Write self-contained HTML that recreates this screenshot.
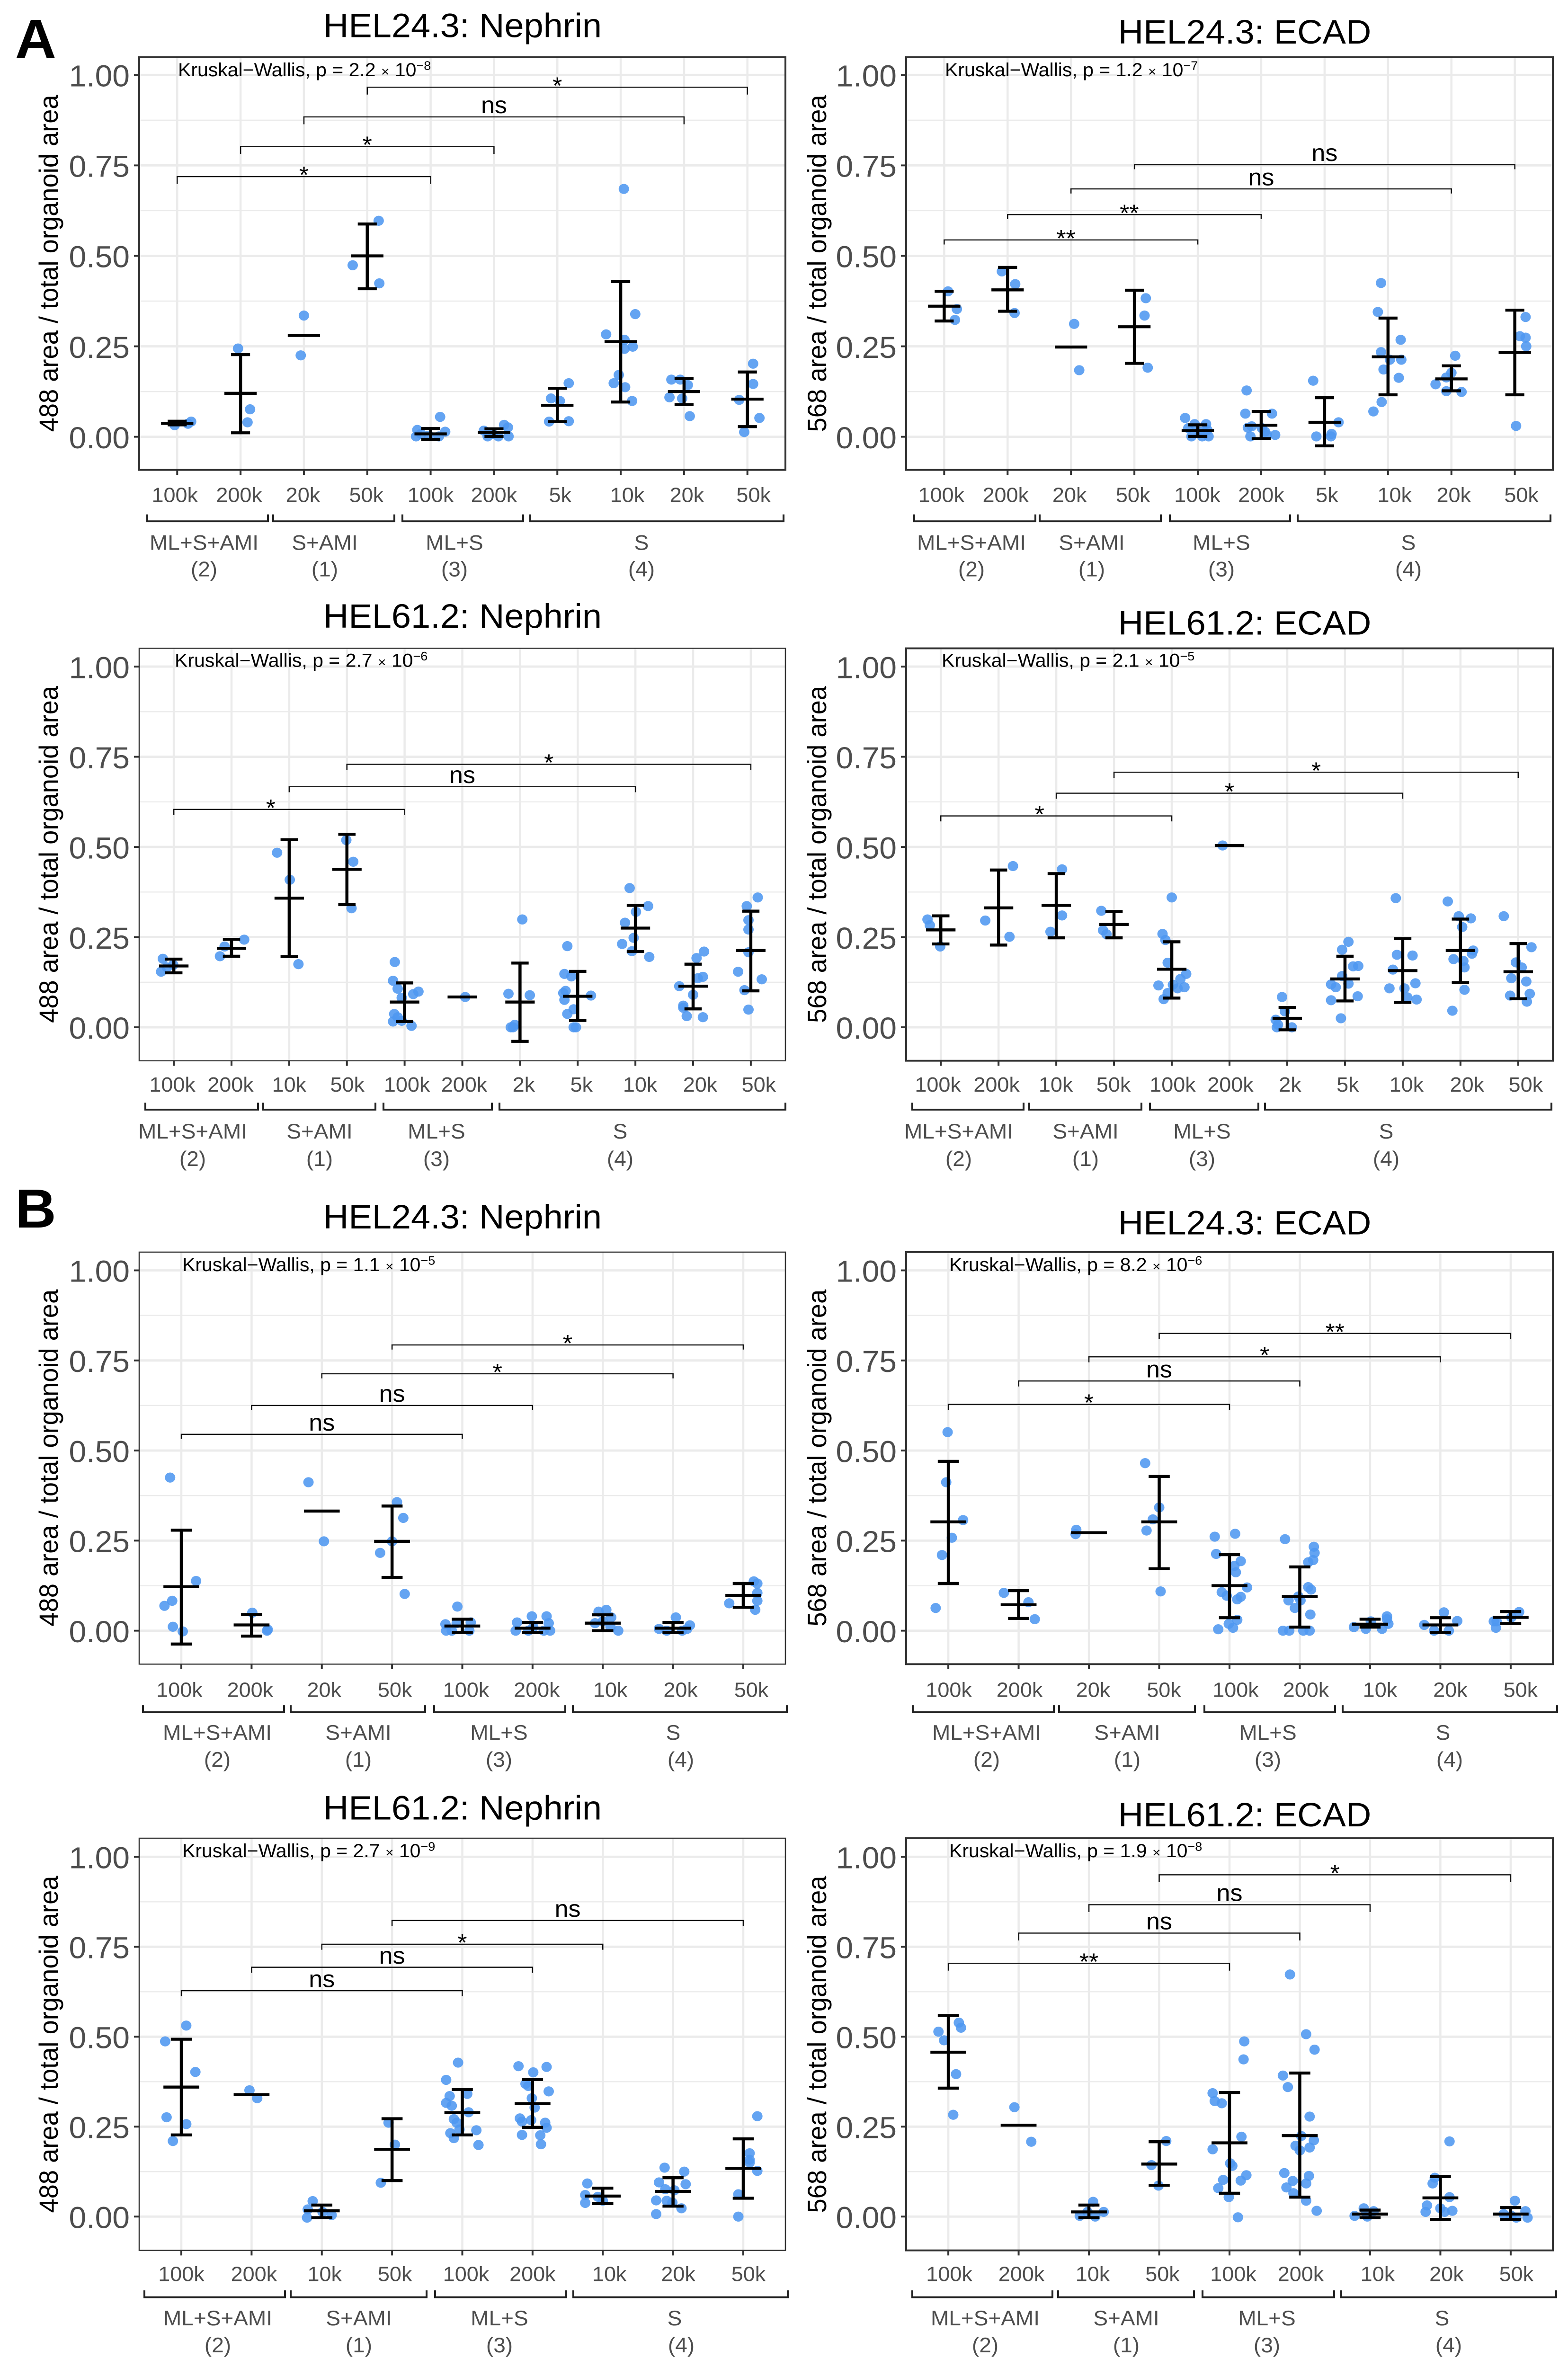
<!DOCTYPE html>
<html lang="en">
<head>
<meta charset="utf-8">
<title>Organoid area by condition</title>
<style>
html,body{margin:0;padding:0;background:#fff;width:100%;height:100%;overflow:hidden}
svg{display:block;position:absolute;left:0;top:0;width:100vw;height:100vh}
text{font-family:"Liberation Sans",sans-serif}
.ttl{font-size:74px;fill:#000;text-anchor:middle}
.yt{font-size:56px;fill:#000;text-anchor:middle}
.kw{font-size:41px;fill:#000}
.gl{font-size:46px;fill:#4d4d4d;text-anchor:middle}
.pl{font-size:120px;font-weight:bold;fill:#000}
</style>
</head>
<body>
<svg id="figure" xmlns="http://www.w3.org/2000/svg" viewBox="0 0 3312 5158" preserveAspectRatio="none">
<rect x="0" y="0" width="3312" height="5158" fill="#fff"/>
<g id="marks"></g>
<g id="labels">
<text class="pl" x="32" y="126">A</text>
<text class="pl" x="32" y="2675">B</text>

<text class="ttl" x="977" y="81">HEL24.3: Nephrin</text>
<text class="yt" transform="translate(122 574) rotate(-90)">488 area / total organoid area</text>
<text class="kw" x="376" y="166">Kruskal−Wallis, p = 2.2 <tspan font-size="30">×</tspan> 10<tspan dy="-14" font-size="27">−8</tspan></text>
<text class="gl" x="431" y="1198">ML+S+AMI</text>
<text class="gl" x="431" y="1256">(2)</text>
<text class="gl" x="686" y="1198">S+AMI</text>
<text class="gl" x="686" y="1256">(1)</text>
<text class="gl" x="960" y="1198">ML+S</text>
<text class="gl" x="960" y="1256">(3)</text>
<text class="gl" x="1355" y="1198">S</text>
<text class="gl" x="1355" y="1256">(4)</text>

<text class="ttl" x="2629" y="95">HEL24.3: ECAD</text>
<text class="yt" transform="translate(1745 574) rotate(-90)">568 area / total organoid area</text>
<text class="kw" x="1996" y="166">Kruskal−Wallis, p = 1.2 <tspan font-size="30">×</tspan> 10<tspan dy="-14" font-size="27">−7</tspan></text>
<text class="gl" x="2052" y="1198">ML+S+AMI</text>
<text class="gl" x="2052" y="1256">(2)</text>
<text class="gl" x="2306" y="1198">S+AMI</text>
<text class="gl" x="2306" y="1256">(1)</text>
<text class="gl" x="2580" y="1198">ML+S</text>
<text class="gl" x="2580" y="1256">(3)</text>
<text class="gl" x="2975" y="1198">S</text>
<text class="gl" x="2975" y="1256">(4)</text>

<text class="ttl" x="977" y="1368">HEL61.2: Nephrin</text>
<text class="yt" transform="translate(122 1862) rotate(-90)">488 area / total organoid area</text>
<text class="kw" x="369" y="1453">Kruskal−Wallis, p = 2.7 <tspan font-size="30">×</tspan> 10<tspan dy="-14" font-size="27">−6</tspan></text>
<text class="gl" x="407" y="2481">ML+S+AMI</text>
<text class="gl" x="407" y="2541">(2)</text>
<text class="gl" x="675" y="2481">S+AMI</text>
<text class="gl" x="675" y="2541">(1)</text>
<text class="gl" x="922" y="2481">ML+S</text>
<text class="gl" x="922" y="2541">(3)</text>
<text class="gl" x="1310" y="2481">S</text>
<text class="gl" x="1310" y="2541">(4)</text>

<text class="ttl" x="2629" y="1383">HEL61.2: ECAD</text>
<text class="yt" transform="translate(1745 1862) rotate(-90)">568 area / total organoid area</text>
<text class="kw" x="1989" y="1453">Kruskal−Wallis, p = 2.1 <tspan font-size="30">×</tspan> 10<tspan dy="-14" font-size="27">−5</tspan></text>
<text class="gl" x="2025" y="2481">ML+S+AMI</text>
<text class="gl" x="2025" y="2541">(2)</text>
<text class="gl" x="2293" y="2481">S+AMI</text>
<text class="gl" x="2293" y="2541">(1)</text>
<text class="gl" x="2539" y="2481">ML+S</text>
<text class="gl" x="2539" y="2541">(3)</text>
<text class="gl" x="2928" y="2481">S</text>
<text class="gl" x="2928" y="2541">(4)</text>

<text class="ttl" x="977" y="2677">HEL24.3: Nephrin</text>
<text class="yt" transform="translate(122 3177) rotate(-90)">488 area / total organoid area</text>
<text class="kw" x="385" y="2770">Kruskal−Wallis, p = 1.1 <tspan font-size="30">×</tspan> 10<tspan dy="-14" font-size="27">−5</tspan></text>
<text class="gl" x="459" y="3791">ML+S+AMI</text>
<text class="gl" x="459" y="3850">(2)</text>
<text class="gl" x="757" y="3791">S+AMI</text>
<text class="gl" x="757" y="3850">(1)</text>
<text class="gl" x="1054" y="3791">ML+S</text>
<text class="gl" x="1054" y="3850">(3)</text>
<text class="gl" x="1422" y="3791">S</text>
<text class="gl" x="1438" y="3850">(4)</text>

<text class="ttl" x="2629" y="2690">HEL24.3: ECAD</text>
<text class="yt" transform="translate(1745 3177) rotate(-90)">568 area / total organoid area</text>
<text class="kw" x="2005" y="2770">Kruskal−Wallis, p = 8.2 <tspan font-size="30">×</tspan> 10<tspan dy="-14" font-size="27">−6</tspan></text>
<text class="gl" x="2084" y="3791">ML+S+AMI</text>
<text class="gl" x="2084" y="3850">(2)</text>
<text class="gl" x="2381" y="3791">S+AMI</text>
<text class="gl" x="2381" y="3850">(1)</text>
<text class="gl" x="2678" y="3791">ML+S</text>
<text class="gl" x="2678" y="3850">(3)</text>
<text class="gl" x="3048" y="3791">S</text>
<text class="gl" x="3062" y="3850">(4)</text>

<text class="ttl" x="977" y="3965">HEL61.2: Nephrin</text>
<text class="yt" transform="translate(122 4455) rotate(-90)">488 area / total organoid area</text>
<text class="kw" x="385" y="4047">Kruskal−Wallis, p = 2.7 <tspan font-size="30">×</tspan> 10<tspan dy="-14" font-size="27">−9</tspan></text>
<text class="gl" x="460" y="5067">ML+S+AMI</text>
<text class="gl" x="460" y="5126">(2)</text>
<text class="gl" x="758" y="5067">S+AMI</text>
<text class="gl" x="758" y="5126">(1)</text>
<text class="gl" x="1055" y="5067">ML+S</text>
<text class="gl" x="1055" y="5126">(3)</text>
<text class="gl" x="1425" y="5067">S</text>
<text class="gl" x="1439" y="5126">(4)</text>

<text class="ttl" x="2629" y="3980">HEL61.2: ECAD</text>
<text class="yt" transform="translate(1745 4455) rotate(-90)">568 area / total organoid area</text>
<text class="kw" x="2005" y="4047">Kruskal−Wallis, p = 1.9 <tspan font-size="30">×</tspan> 10<tspan dy="-14" font-size="27">−8</tspan></text>
<text class="gl" x="2081" y="5067">ML+S+AMI</text>
<text class="gl" x="2081" y="5126">(2)</text>
<text class="gl" x="2379" y="5067">S+AMI</text>
<text class="gl" x="2379" y="5126">(1)</text>
<text class="gl" x="2676" y="5067">ML+S</text>
<text class="gl" x="2676" y="5126">(3)</text>
<text class="gl" x="3046" y="5067">S</text>
<text class="gl" x="3060" y="5126">(4)</text>
</g>
</svg>
<script>
/* ---- shared axis values ---- */
const yTickValues = [0, 0.25, 0.5, 0.75, 1];
const yTickLabels = ['0.00', '0.25', '0.50', '0.75', '1.00'];
const yMinorValues = [0.125, 0.375, 0.625, 0.875];

/* ---- A1: HEL24.3 Nephrin ---- */
const a1Categories = ['100k','200k','20k','50k','100k','200k','5k','10k','20k','50k'];
const a1Values = [[.032,.036,.042],[.244,.076,.04],[.335,.225],[.597,.474,.424],[.055,.019,.001,.014,.001,.003,.008],[.033,.026,.017,.001,.001,.001,.008],[.148,.106,.099,.042,.043],[.685,.339,.283,.268,.249,.243,.171,.148,.137,.099],[.158,.158,.143,.109,.106,.057],[.202,.146,.102,.052,.013]];
const a1Jitter = [[-.04,.17,.22],[-.04,.15,.11],[0,-.05],[.18,-.23,.19],[.15,-.21,-.23,.23,.13,-.03,-.15],[.16,.22,-.16,-.1,.07,.23,-.02],[.18,-.1,.04,-.13,.18],[.05,.23,-.23,.06,.19,.06,-.03,-.11,.07,.18],[-.2,-.06,.06,-.23,-.03,.09],[.09,.09,-.13,.19,-.05]];
const a1Means = [.037,.12,.28,.5,.008,.012,.087,.263,.125,.104];
const a1Low = [.033,.011,null,.409,-.007,.001,.042,.096,.089,.028];
const a1High = [.043,.227,null,.588,.023,.022,.134,.429,.161,.179];
const a1BracketFrom = [0,1,2,3];
const a1BracketTo = [4,5,8,9];
const a1BracketY = [.719,.802,.884,.966];
const a1BracketText = ['*','*','ns','*'];
const a1BracketAt = [2,3,5,6];

/* ---- A2: HEL24.3 ECAD ---- */
const a2Categories = ['100k','200k','20k','50k','100k','200k','5k','10k','20k','50k'];
const a2Values = [[.402,.353,.323],[.457,.422,.342],[.312,.184],[.383,.335,.191],[.052,.035,.035,.024,.001,.001,.001,.019,.014],[.128,.064,.064,.025,.029,.001,.014,.005,.005,.024],[.155,.04,.008,.001,.001],[.425,.345,.268,.234,.213,.213,.186,.163,.096,.07],[.224,.177,.164,.145,.126,.124],[.331,.278,.274,.25,.03]];
const a2Jitter = [[.06,.2,.17],[-.09,.12,.11],[.05,.13],[.18,.16,.21],[-.2,.13,-.05,-.15,-.1,.17,.07,.15,.03],[-.23,-.25,.17,-.21,-.15,-.17,.06,.09,.22,.01],[-.18,.22,.11,.1,-.13],[-.11,-.16,.2,-.11,.03,.21,-.07,.17,-.1,-.23],[.06,0,-.08,-.25,-.08,.16],[.17,.08,.17,.18,.02]];
const a2Means = [.361,.406,.248,.304,.017,.032,.04,.221,.16,.233];
const a2Low = [.32,.347,null,.203,.001,-.005,-.025,.116,.127,.116];
const a2High = [.402,.468,null,.405,.033,.07,.108,.328,.196,.35];
const a2BracketFrom = [0,1,2,3];
const a2BracketTo = [4,5,8,9];
const a2BracketY = [.544,.614,.685,.752];
const a2BracketText = ['**','**','ns','ns'];
const a2BracketAt = [1.92,2.92,5,6];

/* ---- A3: HEL61.2 Nephrin ---- */
const a3Categories = ['100k','200k','10k','50k','100k','200k','2k','5k','10k','20k','50k'];
const a3Values = [[.19,.173,.166,.154],[.243,.224,.197],[.484,.409,.175],[.519,.459,.33],[.181,.129,.107,.099,.092,.082,.037,.028,.016,.018,.004],[.084],[.299,.093,.089,.007,0,0],[.225,.148,.141,.101,.095,.088,.076,.05,.037,0,0],[.386,.336,.32,.29,.248,.231,.211,.195],[.21,.192,.14,.136,.114,.09,.06,.054,.031,.028],[.36,.336,.297,.271,.208,.154,.133,.103,.049]];
const a3Jitter = [[-.19,-.01,-.12,-.22],[.22,-.12,-.2],[-.21,.01,.16],[-.01,.11,.08],[-.17,-.2,-.12,.24,.15,-.05,-.18,-.12,-.2,-.05,.12],[.05],[.04,-.2,.17,-.09,-.16,-.12],[-.18,-.23,-.11,-.21,-.25,.23,-.23,-.07,-.18,-.07,-.03],[-.1,.22,.01,-.18,-.03,-.23,-.06,.24],[.19,.06,.17,.08,-.24,0,-.17,-.17,-.11,.17],[.12,-.07,-.04,-.04,-.04,-.22,.19,-.11,-.04]];
const a3Means = [.17,.219,.358,.438,.07,.084,.07,.086,.275,.114,.213];
const a3Low = [.151,.197,.196,.34,.016,null,-.039,.019,.21,.051,.101];
const a3High = [.189,.244,.52,.535,.123,null,.178,.155,.338,.175,.322];
const a3BracketFrom = [0,2,3];
const a3BracketTo = [4,8,10];
const a3BracketY = [.604,.667,.729];
const a3BracketText = ['*','ns','*'];
const a3BracketAt = [1.68,5,6.5];

/* ---- A4: HEL61.2 ECAD ---- */
const a4Categories = ['100k','200k','10k','50k','100k','200k','2k','5k','10k','20k','50k'];
const a4Values = [[.299,.283,.224],[.447,.296,.251],[.438,.31,.265],[.323,.269,.258],[.36,.259,.242,.179,.148,.134,.118,.116,.111,.108,.095,.078],[.504],[.084,.044,.021,.007,0,0],[.237,.215,.169,.17,.142,.121,.119,.111,.086,.075,.025],[.358,.201,.199,.16,.122,.108,.108,.083,.077],[.349,.308,.302,.278,.213,.204,.189,.184,.166,.104,.046],[.308,.222,.18,.166,.136,.127,.088,.093,.071]];
const a4Jitter = [[-.23,-.19,-.01],[.25,-.23,.19],[.1,.1,-.1],[-.22,-.19,-.13],[0,-.16,-.11,-.07,.25,.15,.02,-.23,.22,.1,-.07,-.14],[-.12],[-.09,-.04,-.2,-.16,-.18,.08],[.06,-.05,.14,.23,-.05,.06,-.24,-.16,.22,-.24,-.07],[-.12,-.1,.17,-.17,.22,-.23,.03,.08,.24],[-.22,-.03,.18,.03,.22,.2,-.12,.05,.07,.07,-.14],[-.25,.23,-.04,.06,-.12,.14,-.14,.2,.15]];
const a4Means = [.27,.331,.338,.285,.161,.504,.025,.134,.157,.213,.154];
const a4Low = [.231,.228,.248,.248,.081,null,-.007,.073,.069,.124,.079];
const a4High = [.309,.436,.426,.321,.237,null,.055,.197,.246,.3,.232];
const a4BracketFrom = [0,2,3];
const a4BracketTo = [4,8,10];
const a4BracketY = [.586,.649,.707];
const a4BracketText = ['*','*','*'];
const a4BracketAt = [1.71,5,6.5];

/* ---- B1: HEL24.3 Nephrin ---- */
const b1Categories = ['100k','200k','20k','50k','100k','200k','10k','20k','50k'];
const b1Values = [[.425,.138,.083,.069,.011,-.002],[.05,0,.003],[.412,.248],[.357,.313,.248,.216,.102],[.067,.018,.023,.021,0,0,0],[.04,.04,.023,.021,0,0,0,0,.01],[.053,.058,.037,.021,.026,0,.01],[.037,.015,.005,.005,0,0],[.137,.131,.105,.083,.076,.058]];
const b1Jitter = [[-.16,.21,-.13,-.24,-.12,.02],[.01,.22,.23],[-.19,.03],[.07,.16,0,-.17,.18],[-.07,-.24,.12,-.08,-.23,.1,-.15],[-.01,.2,-.22,.23,-.24,-.06,.16,.25,.01],[-.06,.05,.12,-.11,0,.22,.11],[.04,.24,.2,-.2,-.09,.13],[.15,.2,.2,.2,-.2,.17]];
const b1Means = [.122,.016,.332,.248,.013,.007,.021,.007,.098];
const b1Low = [-.037,-.015,null,.148,-.005,-.005,0,-.005,.065];
const b1High = [.279,.045,null,.346,.032,.023,.044,.023,.131];
const b1BracketFrom = [0,1,2,3];
const b1BracketTo = [4,5,7,8];
const b1BracketY = [.545,.625,.713,.793];
const b1BracketText = ['ns','ns','*','*'];
const b1BracketAt = [2,3,4.5,5.5];

/* ---- B2: HEL24.3 ECAD ---- */
const b2Categories = ['100k','200k','20k','50k','100k','200k','10k','20k','50k'];
const b2Values = [[.551,.412,.307,.258,.21,.063],[.105,.079,.032],[.28,.268],[.465,.342,.309,.278,.109],[.269,.261,.213,.193,.18,.162,.12,.107,.097,.094,.087,.03,.019,.008,.004],[.254,.233,.216,.196,.19,.121,.114,.095,.084,.084,.063,.045,0,0,0,0],[.04,.032,.01,.005,.005,.019,.026],[.051,.027,.016,0,0],[.052,.026,.026,.008,.037]];
const b2Jitter = [[-.01,-.03,.21,.05,-.09,-.18],[-.21,.14,.23],[-.18,-.19],[-.2,0,-.09,-.18,.02],[.08,-.21,-.19,.16,.07,.09,.25,-.11,-.04,.16,.11,.11,-.01,.05,-.16],[-.21,.2,.21,.19,.12,.12,.16,-.02,-.16,.01,-.07,.15,-.24,-.15,.05,.14],[.24,.24,-.23,-.06,.17,.26,.01],[.05,.24,-.23,-.09,.12],[.12,-.24,-.2,-.21,.01]];
const b2Means = [.302,.072,.272,.302,.125,.095,.018,.016,.037];
const b2Low = [.131,.034,null,.172,.036,.01,.01,-.005,.02];
const b2High = [.47,.111,null,.428,.211,.177,.032,.036,.053];
const b2BracketFrom = [0,1,2,3];
const b2BracketTo = [4,5,7,8];
const b2BracketY = [.628,.693,.76,.825];
const b2BracketText = ['*','ns','*','**'];
const b2BracketAt = [2,3,4.5,5.5];

/* ---- B3: HEL61.2 Nephrin ---- */
const b3Categories = ['100k','200k','10k','50k','100k','200k','10k','20k','50k'];
const b3Values = [[.531,.487,.402,.276,.257,.21],[.351,.329],[.043,.02,.013,.004,-.003],[.261,.2,.094],[.428,.38,.341,.335,.316,.308,.29,.271,.261,.242,.24,.232,.218,.199],[.418,.416,.401,.369,.363,.348,.329,.303,.273,.264,.268,.261,.247,.227,.226,.201],[.092,.06,.055,.038,.044],[.136,.125,.095,.09,.076,.073,.045,.044,.039,.023,.007],[.279,.176,.158,.15,.127,.062,0]];
const b3Jitter = [[.07,-.23,.2,-.21,.07,-.12],[-.03,.08],[-.13,-.2,.01,.14,-.21],[-.05,.04,-.16],[-.06,-.23,.07,-.18,-.23,-.15,.09,-.12,-.08,-.04,.2,-.17,-.12,.23],[-.2,.2,.01,-.1,-.06,.23,-.01,.03,-.18,-.15,-.02,.18,.2,-.15,.11,.12],[-.22,-.25,-.07,-.25,0],[-.12,.16,-.2,.18,-.11,.02,-.24,-.09,-.01,.12,-.24],[.2,.09,.09,.09,.2,-.07,-.07]];
const b3Means = [.36,.339,.016,.187,.289,.314,.057,.07,.134];
const b3Low = [.227,null,-.003,.1,.227,.248,.036,.029,.051];
const b3High = [.493,null,.032,.272,.353,.381,.079,.108,.216];
const b3BracketFrom = [0,1,2,3];
const b3BracketTo = [4,5,6,8];
const b3BracketY = [.628,.693,.757,.823];
const b3BracketText = ['ns','ns','*','ns'];
const b3BracketAt = [2,3,4,5.5];

/* ---- B4: HEL61.2 ECAD ---- */
const b4Categories = ['100k','200k','10k','50k','100k','200k','10k','20k','50k'];
const b4Values = [[.539,.525,.514,.49,.396,.283],[.304,.208],[.041,.013,.002,0,.013],[.21,.143,.086],[.487,.437,.343,.321,.315,.222,.187,.148,.141,.115,.102,.1,.079,.054,-.002],[.673,.507,.464,.392,.36,.278,.224,.212,.197,.192,.184,.121,.113,.099,.092,.081,.065,.044,.016],[.023,.002,0,.015],[.209,.108,.092,.054,.031,.023,.013,.016,.013],[.044,.015,.007,-.003,-.003,.002]];
const b4Jitter = [[.15,.18,-.14,-.06,.11,.07],[-.06,.18],[.06,.21,-.13,.09,-.02],[.1,-.11,-.01],[.21,.2,-.24,-.21,-.11,.17,-.24,.01,.04,.24,-.09,.16,-.16,-.01,.12],[-.14,.09,.21,-.24,-.17,.14,.02,.2,-.06,.14,0,-.22,.13,-.1,.09,-.19,-.09,.09,.24],[-.09,-.22,-.04,.05],[.13,-.08,-.11,.13,-.19,0,-.21,.17,.06],[.06,.21,-.1,.08,.24,.01]];
const b4Means = [.457,.254,.013,.146,.205,.225,.007,.052,.007];
const b4Low = [.357,null,-.003,.087,.065,.054,-.003,-.008,-.008];
const b4High = [.559,null,.032,.208,.345,.399,.018,.111,.025];
const b4BracketFrom = [0,1,2,3];
const b4BracketTo = [4,5,6,8];
const b4BracketY = [.704,.788,.867,.95];
const b4BracketText = ['**','ns','ns','*'];
const b4BracketAt = [2,3,4,5.5];

/* ---- page layout (pixels), kept apart from the data ---- */
const layout = [
 {id:'a1',cats:a1Categories,vals:a1Values,jit:a1Jitter,means:a1Means,low:a1Low,high:a1High,bf:a1BracketFrom,bt:a1BracketTo,by:a1BracketY,bl:a1BracketText,ba:a1BracketAt,
  left:294,right:1659,top:124.5,bottom:1024,y0:951.8,y1:163.3,border:4,tip:16,tickY:1094,groupY:1136,
  spans:[[311,566],[577,833],[850,1105],[1120,1655]],nudge:[-5,-3,-2,-2,0,0,6,14,6,13]},
 {id:'a2',cats:a2Categories,vals:a2Values,jit:a2Jitter,means:a2Means,low:a2Low,high:a2High,bf:a2BracketFrom,bt:a2BracketTo,by:a2BracketY,bl:a2BracketText,ba:a2BracketAt,
  left:1914,right:3280,top:124.5,bottom:1024,y0:951.8,y1:163.3,border:4,tip:10,tickY:1094,groupY:1136,
  spans:[[1931,2187],[2196,2452],[2471,2725],[2741,3275]],nudge:[-6,-4,-3,-3,-1,0,5,14,5,14]},
 {id:'a3',cats:a3Categories,vals:a3Values,jit:a3Jitter,means:a3Means,low:a3Low,high:a3High,bf:a3BracketFrom,bt:a3BracketTo,by:a3BracketY,bl:a3BracketText,ba:a3BracketAt,
  left:294,right:1659,top:1412.8,bottom:2311.5,y0:2238.6,y1:1452.6,border:2.5,tip:12,tickY:2379,groupY:2418,
  spans:[[307,545],[556,793],[810,1039],[1055,1659]],nudge:[-3,-2,0,1,5,4,8,8,10,15,17]},
 {id:'a4',cats:a4Categories,vals:a4Values,jit:a4Jitter,means:a4Means,low:a4Low,high:a4High,bf:a4BracketFrom,bt:a4BracketTo,by:a4BracketY,bl:a4BracketText,ba:a4BracketAt,
  left:1914,right:3280,top:1412.8,bottom:2311.5,y0:2238.6,y1:1452.6,border:4,tip:12,tickY:2379,groupY:2418,
  spans:[[1927,2162],[2174,2411],[2429,2658],[2672,3277]],nudge:[-6,-4,-1,-1,2,2,6,6,8,14,16]},
 {id:'b1',cats:b1Categories,vals:b1Values,jit:b1Jitter,means:b1Means,low:b1Low,high:b1High,bf:b1BracketFrom,bt:b1BracketTo,by:b1BracketY,bl:b1BracketText,ba:b1BracketAt,
  left:294,right:1659,top:2728.5,bottom:3626.4,y0:3553.5,y1:2768.3,border:2.5,tip:10,tickY:3698,groupY:3731,
  spans:[[302,600],[614,898],[917,1194],[1210,1662]],nudge:[-4,-3,5,6,8,9,16,16,17]},
 {id:'b2',cats:b2Categories,vals:b2Values,jit:b2Jitter,means:b2Means,low:b2Low,high:b2High,bf:b2BracketFrom,bt:b2BracketTo,by:b2BracketY,bl:b2BracketText,ba:b2BracketAt,
  left:1914,right:3280,top:2728.5,bottom:3626.4,y0:3553.5,y1:2768.3,border:4,tip:12,tickY:3698,groupY:3731,
  spans:[[1928,2226],[2237,2524],[2544,2820],[2836,3289]],nudge:[1,2,9,10,13,13,21,21,21]},
 {id:'b3',cats:b3Categories,vals:b3Values,jit:b3Jitter,means:b3Means,low:b3Low,high:b3High,bf:b3BracketFrom,bt:b3BracketTo,by:b3BracketY,bl:b3BracketText,ba:b3BracketAt,
  left:294,right:1659,top:4005.7,bottom:4903.9,y0:4830.2,y1:4046.3,border:2.5,tip:12,tickY:4971,groupY:5006,
  spans:[[305,602],[614,901],[919,1196],[1211,1664]],nudge:[0,5,6,6,8,0,14,11,11]},
 {id:'b4',cats:b4Categories,vals:b4Values,jit:b4Jitter,means:b4Means,low:b4Low,high:b4High,bf:b4BracketFrom,bt:b4BracketTo,by:b4BracketY,bl:b4BracketText,ba:b4BracketAt,
  left:1914,right:3280,top:4005.7,bottom:4903.9,y0:4830.2,y1:4046.3,border:4,tip:16,tickY:4971,groupY:5006,
  spans:[[1927,2223],[2235,2522],[2540,2818],[2833,3287]],nudge:[2,6,8,7,8,2,16,13,12]}
];

const NS = 'http://www.w3.org/2000/svg';
const root = document.getElementById('marks');

function svgEl(tag, parent, props, text) {
  const el = document.createElementNS(NS, tag);
  for (const k in props) el.setAttribute(k, props[k]);
  if (text !== undefined) el.textContent = text;
  parent.appendChild(el);
  return el;
}

function drawPanel(p) {
  const step = (p.right - p.left) / (p.cats.length - 1 + 1.2);
  const xPos = c => p.left + (c + 0.6) * step;
  const yPos = v => p.y0 + (p.y1 - p.y0) * v;

  const g = svgEl('g', root, {});
  
  

  const bg = svgEl('rect', g, {x:p.left, y:p.top, width:p.right-p.left, height:p.bottom-p.top, fill:'#fff'});
  
  

  yMinorValues.forEach(v => {
    const l = svgEl('line', g, {x1:p.left, x2:p.right, y1:yPos(v), y2:yPos(v), stroke:'#ebebeb', 'stroke-width':2.5});
    
    
  });
  yTickValues.forEach(v => {
    const l = svgEl('line', g, {x1:p.left, x2:p.right, y1:yPos(v), y2:yPos(v), stroke:'#ebebeb', 'stroke-width':5});
    
    
  });
  p.cats.forEach((c, i) => {
    const l = svgEl('line', g, {x1:xPos(i), x2:xPos(i), y1:p.top, y2:p.bottom, stroke:'#ebebeb', 'stroke-width':4.5});
    
    
  });

  p.vals.forEach((list, i) => {
    list.forEach((v, k) => {
      const d = svgEl('circle', g, {cx:xPos(i + p.jit[i][k]), cy:yPos(v), r:11, fill:'#4f97f0', 'fill-opacity':0.88});
      
      
    });
  });

  p.means.forEach((m, i) => {
    const cx = xPos(i);
    const mb = svgEl('line', g, {x1:cx-step*0.255, x2:cx+step*0.255, y1:yPos(m), y2:yPos(m), stroke:'#000', 'stroke-width':6.5});
    
    
    if (p.low[i] === null || p.high[i] === null) return;
    const st = svgEl('line', g, {x1:cx, x2:cx, y1:yPos(p.low[i]), y2:yPos(p.high[i]), stroke:'#000', 'stroke-width':6.5});
    
    
    [p.low[i], p.high[i]].forEach(e => {
      const cap = svgEl('line', g, {x1:cx-step*0.15, x2:cx+step*0.15, y1:yPos(e), y2:yPos(e), stroke:'#000', 'stroke-width':6.5});
      
      
    });
  });

  p.bf.forEach((from, i) => {
    const y = yPos(p.by[i]);
    const x1 = xPos(from), x2 = xPos(p.bt[i]);
    const br = svgEl('path', g, {d:'M'+x1+' '+(y+p.tip)+'V'+y+'H'+x2+'V'+(y+p.tip), fill:'none', stroke:'#111', 'stroke-width':2.5});
    
    
    const isNs = p.bl[i] === 'ns';
    const t = svgEl('text', g, {x:xPos(p.ba[i]), y:isNs ? y-8 : y+14, 'text-anchor':'middle', 'font-size':52, fill:'#000'}, p.bl[i]);
    
    
  });

  const frame = svgEl('rect', g, {x:p.left, y:p.top, width:p.right-p.left, height:p.bottom-p.top, fill:'none', stroke:'#333', 'stroke-width':p.border});
  
  

  yTickValues.forEach((v, i) => {
    const tk = svgEl('line', g, {x1:p.left-11, x2:p.left, y1:yPos(v), y2:yPos(v), stroke:'#333', 'stroke-width':4});
    
    
    const t = svgEl('text', g, {x:p.left-20, y:yPos(v)+25, 'text-anchor':'end', 'font-size':66, fill:'#4d4d4d'}, yTickLabels[i]);
    
    
  });

  p.cats.forEach((c, i) => {
    const tk = svgEl('line', g, {x1:xPos(i), x2:xPos(i), y1:p.bottom, y2:p.bottom+11, stroke:'#333', 'stroke-width':4});
    
    
    const t = svgEl('text', g, {x:xPos(i)+p.nudge[i], y:p.tickY, 'text-anchor':'middle', 'font-size':45, fill:'#4d4d4d'}, c);
    
    
  });

  p.spans.forEach(s => {
    const gb = svgEl('path', g, {d:'M'+s[0]+' '+(p.groupY-15)+'V'+p.groupY+'H'+s[1]+'V'+(p.groupY-15), fill:'none', stroke:'#222', 'stroke-width':4});
    
    
  });
}

layout.forEach(drawPanel);
</script>
</body>
</html>
